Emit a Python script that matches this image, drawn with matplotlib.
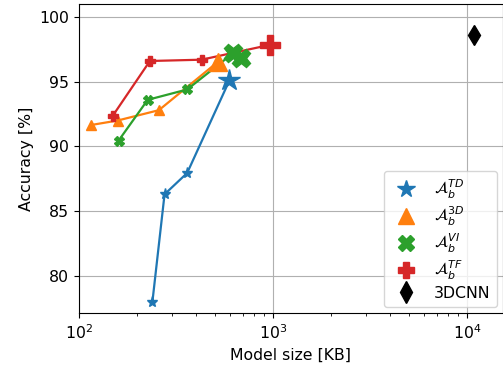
import matplotlib
matplotlib.use('Agg')
import matplotlib.pyplot as plt
from matplotlib.lines import Line2D

# model size [KB] and accuracy [%] per variant
td_size = [239, 276, 361, 596]
td_acc = [78.0, 86.3, 87.95, 95.1]

d3_size = [115, 158, 258, 521]
d3_acc = [91.65, 92.0, 92.8, 96.55]

vi_size = [160, 226, 361, 622, 684]
vi_acc = [90.45, 93.6, 94.4, 97.2, 96.8]

tf_size = [149, 232, 428, 966]
tf_acc = [92.35, 96.6, 96.7, 97.85]

cnn_size = [10800]
cnn_acc = [98.6]

labels = [r'$\mathcal{A}_b^{TD}$', r'$\mathcal{A}_b^{3D}$',
          r'$\mathcal{A}_b^{VI}$', r'$\mathcal{A}_b^{TF}$', '3DCNN']

plt.rcParams['font.size'] = 11.3

fig = plt.figure(figsize=(5.03, 3.67), dpi=100)
ax = fig.add_axes([0.157, 0.146, 0.843, 0.843])

series = [
    (td_size, td_acc, 'tab:blue', '*', 8, 16, 1),
    (d3_size, d3_acc, 'tab:orange', '^', 7, 13, 1),
    (vi_size, vi_acc, 'tab:green', 'X', 7, 13, 2),
    (tf_size, tf_acc, 'tab:red', 'P', 7, 14, 1),
]

for xs, ys, c, m, small, big, nbig in series:
    ax.plot(xs, ys, color=c, lw=1.6, marker=m, ms=small, zorder=2)
    ax.plot(xs[-nbig:], ys[-nbig:], ls='none', color=c, marker=m, ms=big, zorder=3)

ax.plot(cnn_size, cnn_acc, ls='none', color='black', marker='d', ms=10)

ax.set_xscale('log')
ax.set_xlim(100, 15300)
ax.set_ylim(77.1, 101.0)
ax.set_yticks([80, 85, 90, 95, 100])
ax.grid(True, which='major', color='#b0b0b0', lw=0.8)
ax.set_axisbelow(True)

ax.set_xlabel('Model size [KB]')
ax.set_ylabel('Accuracy [%]')

handles = [
    Line2D([], [], ls='none', color='tab:blue', marker='*', ms=13),
    Line2D([], [], ls='none', color='tab:orange', marker='^', ms=11),
    Line2D([], [], ls='none', color='tab:green', marker='X', ms=11),
    Line2D([], [], ls='none', color='tab:red', marker='P', ms=11),
    Line2D([], [], ls='none', color='black', marker='d', ms=11),
]
ax.legend(handles, labels, loc='lower right', fontsize=11.3, labelspacing=0.25,
          borderpad=0.4, handletextpad=0.8, borderaxespad=0.4)

fig.savefig('out.png', dpi=100)
